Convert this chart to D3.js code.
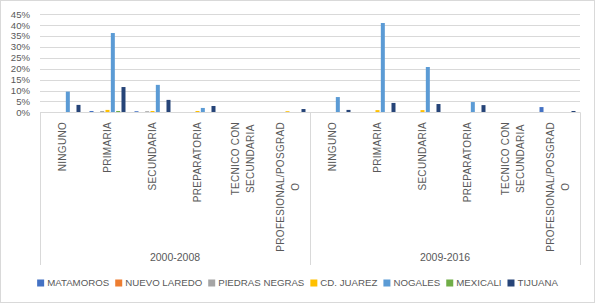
<!DOCTYPE html>
<html>
<head>
<meta charset="utf-8">
<script src="https://cdn.jsdelivr.net/npm/d3@7"></script>
<style>
  body { margin: 0; background: #fff; }
  text { font-family: "Liberation Sans", Arial, sans-serif; fill: #595959; }
</style>
</head>
<body>
<div id="container"></div>
<script>
const periods = ["2000-2008", "2009-2016"]
const categories = ["NINGUNO", "PRIMARIA", "SECUNDARIA", "PREPARATORIA", "TECNICO CON SECUNDARIA", "PROFESIONAL/POSGRADO"]
// label lines as Excel wrapped them
const categoryLines = [["NINGUNO"], ["PRIMARIA"], ["SECUNDARIA"], ["PREPARATORIA"], ["TECNICO CON", "SECUNDARIA"], ["PROFESIONAL/POSGRAD", "O"]]
const seriesNames = ["MATAMOROS", "NUEVO LAREDO", "PIEDRAS NEGRAS", "CD. JUAREZ", "NOGALES", "MEXICALI", "TIJUANA"]
const seriesColors = ["#4472C4", "#ED7D31", "#A5A5A5", "#FFC000", "#5B9BD5", "#70AD47", "#264478"]
const yTicks = [0, 5, 10, 15, 20, 25, 30, 35, 40, 45]

// percent, 2000-2008 categories then 2009-2016 categories
const matamoros     = [0, 0.6, 0.5, 0, 0, 0,     0, 0, 0, 0, 0, 2.4]
const nuevoLaredo   = [0, 0, 0, 0, 0, 0,         0, 0, 0, 0, 0, 0]
const piedrasNegras = [0, 0.6, 0.5, 0, 0, 0,     0, 0, 0, 0, 0, 0]
const cdJuarez      = [0, 1.1, 0.6, 0.6, 0, 0.5, 0, 1.0, 1.0, 0, 0, 0]
const nogales       = [9.5, 36.4, 12.6, 2.0, 0, 0, 7.0, 41.0, 20.8, 4.7, 0, 0]
const mexicali      = [0, 0.6, 0, 0, 0, 0,       0, 0, 0, 0, 0, 0]
const tijuana       = [3.4, 11.6, 5.7, 2.9, 0, 1.5, 1.1, 4.3, 3.8, 3.3, 0, 0.6]
const seriesValues = [matamoros, nuevoLaredo, piedrasNegras, cdJuarez, nogales, mexicali, tijuana]

const width = 595, height = 304
const plot = { left: 40, right: 580, top: 14.3, bottom: 112.3 }
const gridColor = "#D9D9D9"

const svg = d3.select('#container')
    .append('svg').attr('width', width).attr('height', height)

svg.append("rect")
    .attr("x", 0.5).attr("y", 0.5)
    .attr("width", width - 1).attr("height", height - 2)
    .attr("fill", "#fff").attr("stroke", gridColor)

const keys = []
periods.forEach(p => categories.forEach(c => keys.push(p + "|" + c)))

const x = d3.scaleBand().domain(keys).range([plot.left, plot.right])
const xs = d3.scaleBand().domain(seriesNames).range([0, x.bandwidth()])
    .paddingInner(0.25).paddingOuter(0.845)
const y = d3.scaleLinear().domain([0, 45]).range([plot.bottom, plot.top])

// gridlines
svg.append("g").selectAll("line")
    .data(yTicks)
    .enter().append("line")
    .attr("x1", plot.left).attr("x2", plot.right)
    .attr("y1", d => Math.round(y(d)) + 0.5).attr("y2", d => Math.round(y(d)) + 0.5)
    .attr("stroke", gridColor).attr("stroke-width", 1)

svg.append("g").selectAll("text")
    .data(yTicks)
    .enter().append("text")
    .attr("x", 30).attr("y", d => y(d)).attr("dy", "0.35em")
    .attr("text-anchor", "end").attr("font-size", 9.6)
    .text(d => d + "%")

// bars
const bars = svg.append("g")
seriesNames.forEach((name, si) => {
    bars.selectAll(".s" + si)
        .data(seriesValues[si].map((v, i) => ({ key: keys[i], v: v })).filter(d => d.v > 0))
        .enter().append("rect")
        .attr("class", "s" + si)
        .attr("x", d => x(d.key) + xs(name))
        .attr("width", xs.bandwidth())
        .attr("y", d => y(d.v))
        .attr("height", d => y(0) - y(d.v))
        .attr("fill", seriesColors[si])
})

// axis lines of the multi level category axis
const axisBottom = 265
svg.append("line")
    .attr("x1", plot.left).attr("x2", plot.right)
    .attr("y1", Math.round(y(0)) + 0.5).attr("y2", Math.round(y(0)) + 0.5)
    .attr("stroke", gridColor)
const dividers = [x(keys[0]), x(keys[6]), plot.right]
svg.append("g").selectAll("line")
    .data(dividers)
    .enter().append("line")
    .attr("x1", d => Math.round(d) + 0.5).attr("x2", d => Math.round(d) + 0.5)
    .attr("y1", y(0)).attr("y2", axisBottom)
    .attr("stroke", gridColor)

// category labels, rotated, lines centred on the longest one
const labelTop = 122
const lineGap = 15
keys.forEach((k, i) => {
    const lines = categoryLines[i % categories.length]
    const cx = x(k) + x.bandwidth() / 2
    const g = svg.append("g")
    const texts = lines.map((t, li) => g.append("text")
        .attr("font-size", 10)
        .attr("letter-spacing", 0.3)
        .attr("text-anchor", "middle")
        .attr("dy", "0.35em")
        .text(t))
    const maxLen = d3.max(texts, t => t.node().getComputedTextLength())
    texts.forEach((t, li) => {
        const lx = cx + (li - (lines.length - 1) / 2) * lineGap
        const ly = labelTop + maxLen / 2
        t.attr("transform", `translate(${lx},${ly}) rotate(-90)`)
    })
})

// period labels
svg.append("g").selectAll("text")
    .data(periods)
    .enter().append("text")
    .attr("x", (p, i) => (dividers[i] + dividers[i + 1]) / 2)
    .attr("y", 257).attr("dy", "0.35em")
    .attr("text-anchor", "middle").attr("font-size", 10.5)
    .text(d => d)

// legend
const legend = svg.append("g")
let lx = 0
seriesNames.forEach((name, si) => {
    const item = legend.append("g").attr("transform", `translate(${lx},0)`)
    item.append("rect").attr("x", 0).attr("y", -3.5).attr("width", 7).attr("height", 7)
        .attr("fill", seriesColors[si])
    const t = item.append("text").attr("x", 10).attr("dy", "0.35em")
        .attr("font-size", 9.7).text(name)
    lx += 10 + t.node().getComputedTextLength() + 6
})
const legendWidth = lx - 6
legend.attr("transform", `translate(${(width - legendWidth) / 2},283)`)
</script>
</body>
</html>
